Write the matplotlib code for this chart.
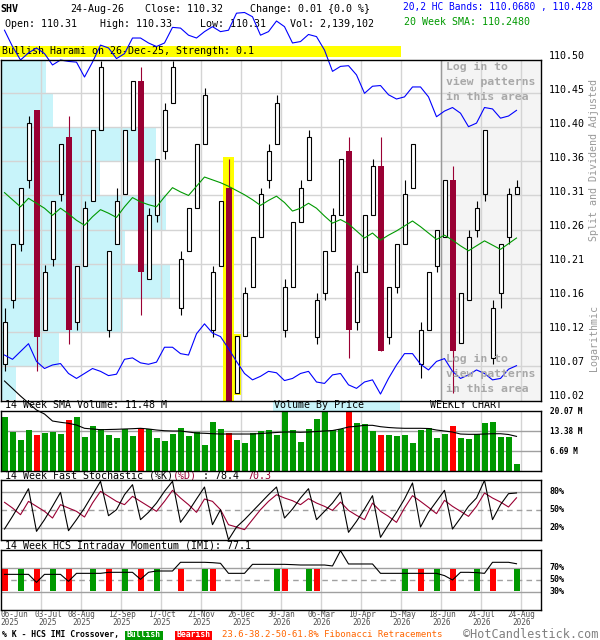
import matplotlib
matplotlib.use('Agg')
import matplotlib.pyplot as plt
from matplotlib.patches import Rectangle
from matplotlib.transforms import blended_transform_factory as blend, offset_copy

plt.rcParams['font.family'] = ['DejaVu Sans Mono']

# ---------------- data ----------------
ticker = 'SHV'
opens = [110.070, 110.161, 110.240, 110.330, 110.429, 110.119, 110.219, 110.310, 110.390, 110.130,
         110.209, 110.300, 110.400, 110.119, 110.240, 110.310, 110.400, 110.469, 110.190, 110.280,
         110.370, 110.439, 110.150, 110.229, 110.290, 110.380, 110.119, 110.209, 110.319, 110.030,
         110.110, 110.179, 110.250, 110.330, 110.380, 110.119, 110.179, 110.270, 110.330, 110.109,
         110.170, 110.229, 110.280, 110.370, 110.130, 110.200, 110.280, 110.349, 110.109, 110.179,
         110.240, 110.319, 110.070, 110.119, 110.209, 110.250, 110.330, 110.100, 110.161, 110.260,
         110.310, 110.079, 110.170, 110.250, 110.310]
highs = [110.150, 110.240, 110.319, 110.420, 110.429, 110.210, 110.300, 110.380, 110.420, 110.209,
         110.300, 110.400, 110.498, 110.229, 110.319, 110.400, 110.469, 110.489, 110.290, 110.359,
         110.439, 110.498, 110.229, 110.290, 110.380, 110.459, 110.209, 110.300, 110.359, 110.110,
         110.179, 110.250, 110.319, 110.380, 110.449, 110.190, 110.270, 110.330, 110.400, 110.170,
         110.229, 110.290, 110.359, 110.390, 110.210, 110.280, 110.359, 110.390, 110.179, 110.240,
         110.330, 110.380, 110.130, 110.200, 110.260, 110.330, 110.349, 110.170, 110.260, 110.300,
         110.400, 110.161, 110.240, 110.319, 110.330]
lows = [110.060, 110.150, 110.229, 110.319, 110.060, 110.119, 110.209, 110.300, 110.099, 110.119,
        110.209, 110.300, 110.400, 110.109, 110.240, 110.310, 110.400, 110.140, 110.190, 110.270,
        110.359, 110.439, 110.140, 110.229, 110.290, 110.380, 110.109, 110.209, 110.005, 110.030,
        110.110, 110.179, 110.250, 110.319, 110.380, 110.109, 110.179, 110.270, 110.330, 110.099,
        110.160, 110.229, 110.280, 110.079, 110.119, 110.200, 110.280, 110.089, 110.099, 110.170,
        110.240, 110.319, 110.050, 110.119, 110.200, 110.250, 110.029, 110.100, 110.161, 110.250,
        110.300, 110.070, 110.150, 110.240, 110.310]
closes = [110.130, 110.240, 110.319, 110.410, 110.109, 110.200, 110.300, 110.380, 110.119, 110.209,
          110.290, 110.400, 110.489, 110.229, 110.300, 110.400, 110.469, 110.200, 110.280, 110.359,
          110.429, 110.489, 110.219, 110.290, 110.380, 110.449, 110.200, 110.300, 110.010, 110.110,
          110.170, 110.250, 110.310, 110.370, 110.439, 110.179, 110.270, 110.319, 110.390, 110.161,
          110.229, 110.280, 110.359, 110.119, 110.200, 110.280, 110.349, 110.089, 110.179, 110.240,
          110.310, 110.380, 110.119, 110.200, 110.260, 110.330, 110.089, 110.170, 110.250, 110.290,
          110.400, 110.150, 110.240, 110.310, 110.320]
sma20 = [110.312, 110.302, 110.292, 110.304, 110.297, 110.290, 110.280, 110.290, 110.282, 110.273,
         110.266, 110.278, 110.288, 110.283, 110.277, 110.292, 110.305, 110.299, 110.295, 110.292,
         110.306, 110.319, 110.313, 110.308, 110.321, 110.334, 110.330, 110.326, 110.321, 110.315,
         110.309, 110.302, 110.294, 110.301, 110.307, 110.298, 110.286, 110.290, 110.297, 110.290,
         110.279, 110.269, 110.274, 110.268, 110.258, 110.248, 110.255, 110.245, 110.252, 110.258,
         110.265, 110.272, 110.264, 110.255, 110.246, 110.252, 110.245, 110.237, 110.230, 110.237,
         110.244, 110.238, 110.232, 110.240, 110.248]
band_upper = [110.541, 110.518, 110.499, 110.509, 110.516, 110.508, 110.492, 110.499, 110.497, 110.496,
              110.475, 110.496, 110.520, 110.516, 110.501, 110.508, 110.530, 110.530, 110.523, 110.518,
              110.523, 110.545, 110.544, 110.534, 110.530, 110.539, 110.546, 110.539, 110.541, 110.565,
              110.566, 110.560, 110.534, 110.539, 110.554, 110.546, 110.523, 110.525, 110.535, 110.532,
              110.513, 110.483, 110.490, 110.491, 110.478, 110.452, 110.462, 110.463, 110.450, 110.444,
              110.447, 110.461, 110.461, 110.447, 110.419, 110.427, 110.432, 110.424, 110.405, 110.410,
              110.432, 110.430, 110.417, 110.420, 110.428]
band_lower = [110.083, 110.077, 110.088, 110.099, 110.074, 110.064, 110.069, 110.071, 110.057, 110.050,
              110.057, 110.064, 110.060, 110.054, 110.056, 110.077, 110.079, 110.072, 110.070, 110.073,
              110.094, 110.094, 110.085, 110.083, 110.113, 110.127, 110.114, 110.109, 110.092, 110.074,
              110.057, 110.048, 110.053, 110.060, 110.058, 110.047, 110.050, 110.057, 110.060, 110.045,
              110.043, 110.055, 110.057, 110.041, 110.036, 110.045, 110.048, 110.028, 110.050, 110.069,
              110.085, 110.085, 110.070, 110.062, 110.074, 110.078, 110.060, 110.050, 110.055, 110.062,
              110.057, 110.048, 110.050, 110.063, 110.068]
volume_m = [18.06, 13.04, 10.27, 13.61, 11.94, 12.51, 12.84, 12.27, 16.96, 18.06,
            11.27, 14.95, 13.95, 11.94, 11.04, 13.95, 11.61, 14.28, 13.95, 10.94,
            9.93, 12.27, 14.28, 11.61, 12.84, 8.60, 16.29, 13.95, 12.51, 10.27,
            9.26, 12.61, 13.28, 13.61, 11.94, 19.63, 13.61, 9.60, 13.95, 17.29,
            19.73, 13.61, 13.95, 20.40, 15.95, 15.62, 13.38, 11.94, 11.94, 11.61,
            11.94, 9.26, 13.61, 14.28, 10.94, 12.27, 14.95, 10.94, 10.60, 12.27,
            15.95, 16.29, 11.27, 11.27, 2.14]
volume_sma_m = [30.00, 27.49, 24.98, 22.64, 20.30, 18.96, 16.62, 16.19, 15.85, 15.28,
                14.18, 13.95, 13.71, 13.78, 13.85, 13.95, 14.05, 14.18, 13.95, 13.61,
                13.38, 13.28, 13.28, 12.94, 12.61, 12.51, 12.37, 12.27, 12.27, 12.27,
                12.27, 12.27, 12.44, 12.61, 12.78, 12.94, 12.94, 12.84, 12.94, 13.11,
                13.28, 13.44, 13.95, 14.62, 14.85, 15.18, 15.18, 14.72, 14.45, 14.28,
                14.18, 14.18, 14.18, 14.11, 13.61, 13.28, 12.94, 12.27, 12.17, 12.17,
                12.27, 12.37, 12.37, 12.11, 11.48]
stoch_k = [18.3, 39.4, 61.6, 85.5, 14.4, 33.9, 56.1, 79.4, 15.5, 33.9,
           53.3, 75.5, 97.8, 40.5, 50.5, 75.5, 92.2, 33.9, 46.1, 61.6,
           81.1, 97.8, 29.4, 47.8, 68.3, 88.3, 25.5, 50.5, 0.5, 21.6,
           33.9, 47.8, 61.6, 75.5, 88.3, 36.6, 51.6, 70.0, 85.5, 33.9,
           47.8, 61.6, 79.4, 12.8, 31.1, 51.6, 73.9, 4.4, 25.5, 46.1,
           68.3, 95.0, 21.6, 46.1, 64.4, 82.8, 18.3, 36.6, 56.1, 70.0,
           99.4, 33.9, 58.9, 77.2, 78.4]
stoch_d = [62.8, 53.3, 42.2, 64.4, 56.1, 47.8, 36.6, 58.9, 53.3, 47.8,
           38.3, 61.6, 81.1, 72.8, 64.4, 58.9, 72.8, 64.4, 56.1, 47.8,
           64.4, 82.8, 70.0, 58.9, 46.1, 68.3, 64.4, 50.5, 25.5, 21.6,
           17.2, 33.9, 50.5, 64.4, 75.5, 70.0, 65.5, 58.9, 68.9, 61.6,
           56.1, 49.4, 63.3, 49.4, 41.1, 33.9, 61.6, 47.8, 39.4, 29.4,
           53.3, 73.9, 64.4, 54.4, 43.9, 66.1, 56.1, 47.8, 39.4, 56.1,
           78.3, 70.0, 63.3, 55.0, 70.3]
imi = [59.4, 59.4, 59.4, 59.4, 46.1, 59.4, 59.4, 59.4, 47.8, 61.1,
       61.1, 61.1, 61.1, 62.8, 62.8, 62.8, 62.8, 51.1, 62.8, 65.0,
       65.0, 65.0, 79.5, 79.5, 79.5, 79.5, 78.9, 77.8, 61.1, 61.1,
       61.1, 76.1, 76.1, 76.1, 76.1, 76.1, 75.6, 75.0, 75.0, 75.0,
       75.0, 73.4, 98.9, 76.7, 76.7, 76.7, 76.7, 61.1, 61.1, 61.1,
       61.1, 61.1, 61.1, 61.1, 61.1, 57.3, 50.0, 62.8, 62.8, 62.3,
       61.1, 79.5, 79.5, 79.5, 77.1]
imi_bullish = [2, 6, 11, 15, 19, 25, 34, 38, 50, 54, 59, 64]
imi_bearish = [0, 4, 8, 13, 17, 22, 26, 35, 39, 52, 56, 61]
# volume by price (millions) per price bin, bottom bin first
vbp_volume = [7.5, 29.0, 61.0, 84.5, 62.0, 82.5, 49.5, 77.5, 26.0, 22.5]
price_ticks = [110.020, 110.068, 110.116, 110.164, 110.212, 110.260, 110.308, 110.356, 110.404, 110.452, 110.500]
price_labels = ['110.02', '110.07', '110.12', '110.16', '110.21', '110.26', '110.31', '110.36', '110.40', '110.45', '110.50']
vol_ticks = [6.69, 13.38, 20.07]
vol_labels = ['6.69 M', '13.38 M', '20.07 M']
date_labels = ['06-Jun', '03-Jul', '08-Aug', '12-Sep', '17-Oct', '21-Nov', '26-Dec',
               '30-Jan', '06-Mar', '10-Apr', '15-May', '18-Jun', '24-Jul', '24-Aug']
year_labels = ['2025'] * 7 + ['2026'] * 7
harami_idx = 28

# ---------------- figure layout ----------------
W, H = 600, 640
fig = plt.figure(figsize=(6, 6.4), dpi=100)
fig.patch.set_facecolor('white')

def rect(x0, y0, x1, y1):
    return [x0 / W, 1 - y1 / H, (x1 - x0) / W, (y1 - y0) / H]

hdr = fig.add_axes([0, 0, 1, 1], zorder=-1)
hdr.set_xlim(0, W); hdr.set_ylim(H, 0); hdr.axis('off')

XL = (-0.5, 67.0)
n = len(closes)
xs = list(range(n))
grid_x = [5 * k - 0.5 for k in range(1, 14)]
GRID = '#d4d4d4'
CRIM = '#990033'
GREEN = '#009900'
FS = 7.18

ax_vbp = fig.add_axes(rect(0.5, 60, 540.5, 401), zorder=0)
ax = fig.add_axes(rect(0.5, 60, 540.5, 401), zorder=0.5)
ax_v = fig.add_axes(rect(0.5, 410.7, 540.5, 470.7), zorder=1)
ax_s = fig.add_axes(rect(0.5, 480, 540.5, 540), zorder=1)
ax_i = fig.add_axes(rect(0.5, 550, 540.5, 610), zorder=1)

YL = (110.0182, 110.499)
# volume by price
ax_vbp.set_ylim(*YL); ax_vbp.set_xlim(0, 270)
bin_mid = [(price_ticks[k] + price_ticks[k + 1]) / 2 for k in range(10)]
ax_vbp.barh(bin_mid, vbp_volume, height=0.048, left=0, color='#c8f4fa', linewidth=0)
ax_vbp.axis('off')

for a in (ax, ax_v, ax_s, ax_i):
    a.set_xlim(*XL)
    a.set_xticks([]); a.set_yticks([])
    for s in a.spines.values():
        s.set_linewidth(1.0); s.set_color('black'); s.set_zorder(10)
    for gx in grid_x:
        a.axvline(gx, color=GRID, lw=1.0, zorder=1)

# ---- price panel ----
ax.patch.set_alpha(0)
ax.set_ylim(*YL)
ax.axvspan(54.5, 67.0, color='#f4f4f4', zorder=0.5, lw=0)
ax.axvline(54.5, color='#9a9a9a', lw=1.0, zorder=1.2)
for pt in price_ticks[1:-1]:
    ax.axhline(pt, color=GRID, lw=1.0, zorder=1)

# harami highlight
ax.add_patch(Rectangle((harami_idx - 0.72, 109.9), 1.44, highs[harami_idx] + 0.003 - 109.9,
                       facecolor='#ffff00', edgecolor='none', zorder=2))
h2 = harami_idx + 1
ax.add_patch(Rectangle((h2 - 0.55, lows[h2] - 0.003), 1.1, highs[h2] - lows[h2] + 0.006,
                       facecolor='#ffff00', edgecolor='none', zorder=2))

up_i = [i for i in xs if closes[i] >= opens[i]]
dn_i = [i for i in xs if closes[i] < opens[i]]
ax.vlines(up_i, [lows[i] for i in up_i], [highs[i] for i in up_i], color='black', lw=0.8, zorder=3)
ax.vlines(dn_i, [lows[i] for i in dn_i], [highs[i] for i in dn_i], color=CRIM, lw=0.8, zorder=3)
ax.bar(up_i, [closes[i] - opens[i] for i in up_i], bottom=[opens[i] for i in up_i], width=0.5,
       facecolor='white', edgecolor='black', linewidth=0.8, zorder=4)
ax.bar(dn_i, [opens[i] - closes[i] for i in dn_i], bottom=[closes[i] for i in dn_i], width=0.75,
       facecolor=CRIM, edgecolor='none', linewidth=0, zorder=4)

ax.plot(xs, sma20, color=GREEN, lw=0.8, zorder=5)
ax.plot(xs, band_lower, color='#0000ff', lw=0.8, zorder=5)
ax.plot(xs, band_upper, color='#0000ff', lw=0.8, zorder=5, clip_on=False)

tr_px = hdr.transData
for yy, s in ((67.3, 'Log in to'), (82.3, 'view patterns'), (97.3, 'in this area'),
              (359, 'Log in to'), (374, 'view patterns'), (389, 'in this area')):
    ax.text(446.5, yy, s, transform=tr_px, fontsize=8.25, fontweight='bold', color='#a8a8a8',
            va='center', ha='left', zorder=6)

lab_tr = offset_copy(blend(ax.transAxes, ax.transData), x=8.5, y=3.6, units='dots')
for v, s in zip(price_ticks, price_labels):
    ax.text(1.0, v, s, transform=lab_tr, fontsize=FS, va='center', ha='left', clip_on=False)

# ---- volume panel ----
ax_v.set_ylim(0, 20.07)
for v in vol_ticks[:2]:
    ax_v.axhline(v, color='#a0a0a0', lw=1.0, zorder=1)
vol_colors = ['#ff0000' if closes[i] < opens[i] else GREEN for i in xs]
ax_v.bar(xs, volume_m, width=0.75, color=vol_colors, linewidth=0, zorder=2)
ax_v.plot(xs, volume_sma_m, color='black', lw=0.8, zorder=3, clip_on=False)
vtr = offset_copy(blend(ax_v.transAxes, ax_v.transData), x=9, y=-1, units='dots')
for v, s in zip(vol_ticks, vol_labels):
    ax_v.text(1.0, v, s, transform=vtr, fontsize=5.6, fontweight='bold', va='center', ha='left', clip_on=False)

# ---- stochastic panel ----
ax_s.set_ylim(0, 100)
ax_s.axhline(80, color='#a0a0a0', lw=1.0, zorder=1)
ax_s.axhline(20, color='#a0a0a0', lw=1.0, zorder=1)
ax_s.axhline(50, color='#a0a0a0', lw=1.0, ls=(0, (4, 3)), zorder=1)
ax_s.plot(xs, stoch_d, color=CRIM, lw=0.8, zorder=3)
ax_s.plot(xs, stoch_k, color='black', lw=0.8, zorder=4)
str_ = offset_copy(blend(ax_s.transAxes, ax_s.transData), x=9, y=0, units='dots')
for v in (80, 50, 20):
    ax_s.text(1.0, v, f'{v}%', transform=str_, fontsize=6.0, fontweight='bold', va='center', ha='left', clip_on=False)

# ---- IMI panel ----
ax_i.set_ylim(0, 100)
ax_i.axhline(70, color='#a0a0a0', lw=1.0, zorder=1)
ax_i.axhline(30, color='#a0a0a0', lw=1.0, zorder=1)
ax_i.axhline(50, color='#a0a0a0', lw=1.0, ls=(0, (4, 3)), zorder=1)
ax_i.bar(imi_bullish, 36.5, bottom=31.5, width=0.75, color=GREEN, linewidth=0, zorder=2)
ax_i.bar(imi_bearish, 36.5, bottom=31.5, width=0.75, color='#ff0000', linewidth=0, zorder=2)
ax_i.plot(xs, imi, color='black', lw=0.8, zorder=3)
itr = offset_copy(blend(ax_i.transAxes, ax_i.transData), x=9, y=0, units='dots')
for v in (70, 50, 30):
    ax_i.text(1.0, v, f'{v}%', transform=itr, fontsize=6.0, fontweight='bold', va='center', ha='left', clip_on=False)

# date labels
date_pos = [-0.5, 5.44] + [5 * k - 0.35 for k in range(2, 14)]
dtr = blend(ax_i.transData, hdr.transData)
for k, (d, y) in enumerate(zip(date_labels, year_labels)):
    ha = 'left' if k == 0 else 'center'
    hdr.text(date_pos[k], 614.8, d, transform=dtr, fontsize=5.6, color='#505050', ha=ha, va='center')
    hdr.text(date_pos[k], 622.8, y, transform=dtr, fontsize=5.6, color='#505050', ha=ha, va='center')

# ---------------- header texts ----------------
def t(x, y, s, **kw):
    kw.setdefault('fontsize', FS)
    kw.setdefault('va', 'center')
    kw.setdefault('ha', 'left')
    hdr.text(x, y, s, **kw)

t(0, 9, ticker, fontweight='bold')
t(70, 9, '24-Aug-26')
t(145, 9, 'Close: 110.32')
t(250, 9, 'Change: 0.01 {0.0 %}')
t(5, 24, 'Open: 110.31')
t(100, 24, 'High: 110.33')
t(200, 24, 'Low: 110.31')
t(290, 24, 'Vol: 2,139,102')
t(403, 7, '20,2 HC Bands: 110.0680 , 110.428', color='#0000ff', fontsize=6.95)
t(404, 22, '20 Week SMA: 110.2480', color=GREEN)

hdr.add_patch(Rectangle((0, 45.5), 400.5, 11.5, facecolor='#ffff00', edgecolor='none'))
t(1.5, 51.5, 'Bullish Harami on 26-Dec-25, Strength: 0.1')

t(594, 160, 'Split and Dividend Adjusted', rotation=90, ha='center', color='#999999')
t(594, 338, 'Logarithmic', rotation=90, ha='center', color='#999999')

t(5, 405.5, '14 Week SMA Volume: 11.48 M')
hdr.add_patch(Rectangle((273, 400.5), 127, 10, facecolor='#c8f4fa', edgecolor='none'))
t(274, 405.5, 'Volume By Price')
t(430, 405.5, 'WEEKLY CHART')

t(5, 476, '14 Week Fast Stochastic (%K)')
t(173, 476, '(%D)', color=CRIM)
t(197, 476, ' : 78.4')
t(247, 476, '70.3', color=CRIM)
t(5, 546, '14 Week HCS Intraday Momentum (IMI): 77.1')

t(2, 634.5, '% K - HCS IMI Crossover,', fontsize=5.9, fontweight='bold')
hdr.add_patch(Rectangle((125, 630.5), 38, 9, facecolor=GREEN, edgecolor='none'))
t(144, 634.8, 'Bullish', fontsize=5.9, fontweight='bold', color='white', ha='center')
hdr.add_patch(Rectangle((175, 630.5), 37, 9, facecolor='#ff0000', edgecolor='none'))
t(193.5, 634.8, 'Bearish', fontsize=5.9, fontweight='bold', color='white', ha='center')
t(221.5, 634.5, '23.6-38.2-50-61.8% Fibonacci Retracements', fontsize=6.45, color='#ff6600')
t(463, 634.5, '\u00a9HotCandlestick.com', fontsize=8.6, color='#808080')

fig.savefig('out.png', dpi=100)
